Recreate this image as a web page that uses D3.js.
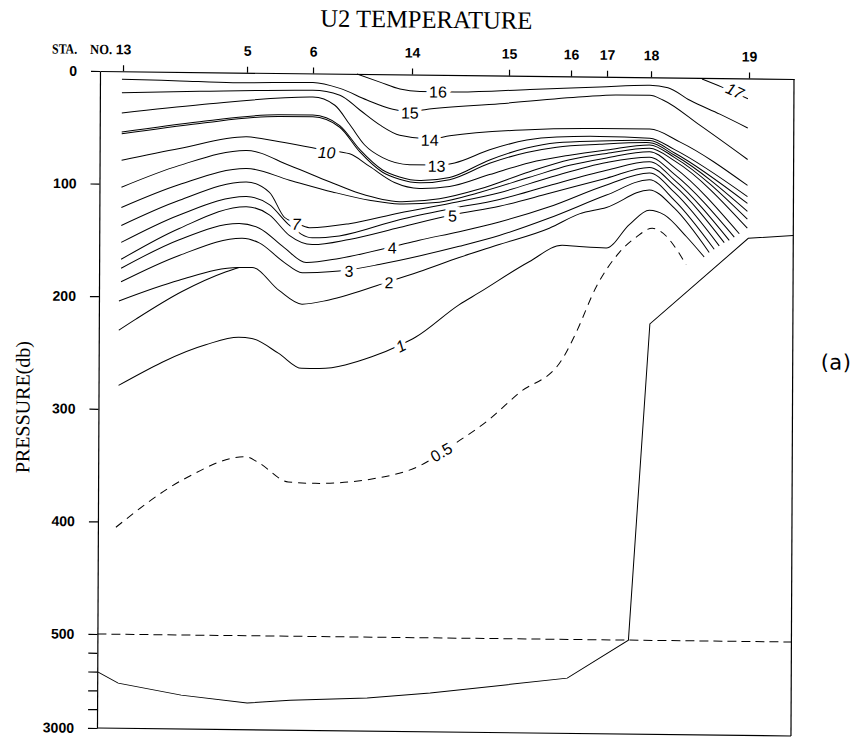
<!DOCTYPE html>
<html>
<head>
  <title>U2 Temperature</title>
  <script src="https://d3js.org/d3.v7.min.js"></script>
  <style>
    body { margin: 0; background: #fff; }
  </style>
</head>
<body>
  <div id="section"></div>

  <script>
    // stations along the section (distance in km from the left edge)
    var stationNames = ['13', '5', '6', '14', '15', '16', '17', '18', '19'];
    var stationDist = [23, 147, 213, 312, 409, 471, 507, 551, 649];

    // pressure axis (db), the scale changes below 500
    var pressureTicks = [0, 100, 200, 300, 400, 500, 1000, 1500, 2000, 2500, 3000];
    var pressureLabels = [0, 100, 200, 300, 400, 500, 3000];

    // isotherms, [distance km, pressure db]
    var t17 = [[602, 1], [622, 8], [648, 18]];
    var t16 = [[257, 0], [280, 7], [300, 13], [320, 15], [355, 15], [430, 12], [500, 9], [550, 7], [568, 9], [590, 20], [620, 32], [648, 44]];
    var t15 = [[22, 7], [80, 8], [133, 9], [213, 8], [240, 13], [267, 23], [293, 31], [310, 33], [325, 31], [400, 25], [483, 18], [517, 16], [550, 16], [563, 20], [600, 42], [648, 72]];
    var t14 = [[22, 19], [100, 17], [213, 15], [240, 19], [260, 32], [280, 45], [300, 54], [330, 57], [350, 54], [423, 48], [500, 46], [550, 46], [580, 57], [648, 95]];
    var t13 = [[22, 37], [100, 29], [213, 21], [235, 28], [250, 45], [265, 63], [283, 74], [310, 80], [337, 80], [355, 78], [390, 66], [427, 57], [457, 54], [500, 53], [550, 54], [575, 64], [648, 105]];
    var t12 = [[22, 54], [100, 44], [180, 37], [213, 37], [240, 46], [260, 67], [283, 85], [300, 91], [320, 94], [350, 91], [390, 75], [427, 64], [457, 59], [500, 57], [550, 56], [575, 67], [648, 111]];
    var t11 = [[22, 55.5], [100, 45.5], [180, 38.5], [213, 38.5], [240, 47.5], [260, 69], [283, 87], [300, 93], [320, 96], [350, 93], [390, 78], [427, 68], [457, 63], [500, 60], [550, 58], [575, 69], [648, 118]];
    var t10 = [[22, 79], [80, 68], [147, 57], [180, 61], [227, 68], [250, 71], [270, 82], [295, 96], [320, 101], [350, 99], [390, 88], [430, 77], [470, 70], [507, 65], [550, 60], [575, 71], [648, 125]];
    var t9 = [[22, 103], [80, 83], [147, 69], [190, 82], [230, 96], [260, 106], [300, 113], [340, 110], [380, 101], [430, 85], [470, 74], [507, 68], [550, 63], [575, 74], [648, 133]];
    var t8 = [[22, 121], [80, 100], [147, 85], [190, 95], [233, 105], [270, 112], [300, 115], [340, 113], [380, 104], [430, 90], [470, 79], [507, 72], [550, 66], [575, 80], [640, 138]];
    var t7 = [[22, 137], [80, 114], [147, 97], [170, 106], [185, 128], [197, 133], [210, 137], [250, 133], [300, 123], [350, 114], [400, 104], [450, 90], [507, 76], [550, 71], [575, 86], [635, 141]];
    var t6 = [[22, 152], [80, 127], [147, 110], [170, 117], [190, 135], [213, 146], [240, 144], [300, 129], [350, 119], [400, 110], [450, 97], [507, 83], [550, 75], [575, 91], [630, 144]];
    var t5 = [[22, 167], [80, 139], [147, 119], [170, 126], [190, 144], [213, 152], [250, 147], [300, 136], [353, 124], [400, 116], [450, 104], [507, 90], [550, 80], [575, 96], [625, 146]];
    var t4 = [[22, 175], [80, 149], [140, 134], [160, 138], [185, 155], [207, 168], [240, 164], [293, 153], [320, 147], [360, 139], [400, 130], [450, 116], [507, 96], [550, 85], [575, 102], [620, 149]];
    var t3 = [[22, 187], [80, 163], [143, 147], [160, 151], [185, 168], [203, 177], [230, 176], [250, 174], [280, 169], [320, 161], [360, 152], [400, 142], [450, 126], [507, 105], [550, 91], [575, 109], [615, 152]];
    var t2 = [[20, 204], [80, 185], [140, 173], [153, 173], [180, 193], [203, 205], [230, 201], [290, 184], [320, 175], [360, 162], [400, 150], [450, 135], [480, 122], [507, 116], [550, 100], [575, 116], [610, 155]];
    var t2b = [[20, 230], [37, 220], [83, 195], [127, 177], [140, 173]];
    var t1 = [[20, 279], [107, 242], [140, 235], [153, 236], [180, 249], [203, 262], [220, 262], [273, 251], [302, 240], [317, 233], [360, 204], [380, 193], [430, 165], [463, 150], [480, 151], [507, 152], [530, 131], [550, 118], [565, 122], [587, 141], [605, 159]];
    var t05 = [[18, 405], [87, 361], [147, 341], [160, 346], [190, 363], [217, 364], [283, 358], [320, 348], [357, 327], [390, 306], [420, 282], [463, 252], [477, 228], [497, 187], [520, 156], [537, 142], [553, 134], [560, 136], [587, 166]];

    var isotherms = [
      { level: 17, pts: t17 }, { level: 16, pts: t16 }, { level: 15, pts: t15 },
      { level: 14, pts: t14 }, { level: 13, pts: t13 }, { level: 12, pts: t12 },
      { level: 11, pts: t11 }, { level: 10, pts: t10 }, { level: 9, pts: t9 },
      { level: 8, pts: t8 }, { level: 7, pts: t7 }, { level: 6, pts: t6 },
      { level: 5, pts: t5 }, { level: 4, pts: t4 }, { level: 3, pts: t3 },
      { level: 2, pts: t2 }, { level: 2, pts: t2b }, { level: 1, pts: t1 },
      { level: 0.5, pts: t05 }
    ];

    // contour labels
    var labelText = ['17', '16', '15', '14', '13', '10', '7', '5', '4', '3', '2', '1', '0.5'];
    var labelDist = [635, 338, 310, 330, 337, 227, 197, 353, 293, 250, 290, 302, 343];
    var labelPres = [11, 15, 34, 58, 81, 70, 134, 125, 154, 175, 185, 241, 335];

    // sea floor
    var bottomDist = [0, 21, 84, 150, 193, 270, 333, 470, 531, 551, 649, 694];
    var bottomPres = [1500, 1800, 2100, 2290, 2200, 2120, 1970, 1530, 500, 219, 142, 139];

    var labelAngle = { '17': 24, '1': -28, '0.5': -30 };
    var labelItalic = { '17': true, '10': true, '7': true, '1': true };

    var svg = d3.select('#section').append('svg')
      .attr('width', 857)
      .attr('height', 739);

    svg.append('rect')
      .attr('width', 857)
      .attr('height', 739)
      .attr('fill', 'white');

    // the scanned figure is slightly skewed
    var chart = svg.append('g')
      .attr('transform', 'matrix(1,0.0115,-0.0046,1,0.33,-1.15)');

    var x = d3.scaleLinear()
      .domain([0, 694])
      .range([100, 794]);

    var y = d3.scaleLinear()
      .domain([0, 500, 3000])
      .range([71, 634, 728]);

    var tickFont = 'bold 14px "Liberation Sans", Arial, sans-serif';

    // left axis
    var leftAxis = chart.append('g')
      .attr('transform', 'translate(100,0)')
      .call(d3.axisLeft(y)
        .tickValues(pressureTicks)
        .tickSize(9)
        .tickSizeOuter(0)
        .tickPadding(14)
        .tickFormat(function(d) { return pressureLabels.indexOf(d) >= 0 ? d : ''; }));
    leftAxis.selectAll('text').style('font', tickFont).attr('fill', 'black');
    leftAxis.selectAll('line, path').attr('stroke', 'black').attr('stroke-width', 1.2);

    // top axis with the stations
    var topAxis = chart.append('g')
      .attr('transform', 'translate(0,71)')
      .call(d3.axisTop(x)
        .tickValues(stationDist)
        .tickSize(6)
        .tickSizeOuter(0)
        .tickPadding(11)
        .tickFormat(function(d, i) { return stationNames[i]; }));
    topAxis.selectAll('text').style('font', tickFont).attr('fill', 'black');
    topAxis.selectAll('line, path').attr('stroke', 'black').attr('stroke-width', 1.2);

    chart.append('text')
      .attr('x', 52)
      .attr('y', 54)
      .attr('textLength', 25)
      .attr('lengthAdjust', 'spacingAndGlyphs')
      .style('font', 'bold 14px "Liberation Serif", serif')
      .text('STA.');
    chart.append('text')
      .attr('x', 90)
      .attr('y', 54)
      .attr('textLength', 22)
      .attr('lengthAdjust', 'spacingAndGlyphs')
      .style('font', 'bold 14px "Liberation Serif", serif')
      .text('NO.');

    // right and bottom frame
    chart.append('line')
      .attr('x1', x(694)).attr('x2', x(694))
      .attr('y1', y(0)).attr('y2', y(3000))
      .attr('stroke', 'black').attr('stroke-width', 1.2);
    chart.append('line')
      .attr('x1', x(0)).attr('x2', x(694))
      .attr('y1', y(3000)).attr('y2', y(3000))
      .attr('stroke', 'black').attr('stroke-width', 1.2);

    // 500 db scale break
    chart.append('line')
      .attr('x1', x(0)).attr('x2', x(694))
      .attr('y1', y(500)).attr('y2', y(500))
      .attr('stroke', 'black').attr('stroke-width', 1)
      .attr('stroke-dasharray', '9,5');

    var line = d3.line()
      .x(function(d) { return x(d[0]); })
      .y(function(d) { return y(d[1]); })
      .curve(d3.curveMonotoneX);

    chart.selectAll('.isotherm')
      .data(isotherms)
      .enter()
      .append('path')
      .attr('class', 'isotherm')
      .attr('d', function(d) { return line(d.pts); })
      .attr('fill', 'none')
      .attr('stroke', 'black')
      .attr('stroke-width', 1)
      .attr('stroke-dasharray', function(d) { return d.level < 1 ? '8,6' : null; });

    // sea floor
    var bottomLine = d3.line()
      .x(function(d, i) { return x(bottomDist[i]); })
      .y(function(d) { return y(d); });
    chart.append('path')
      .attr('d', bottomLine(bottomPres))
      .attr('fill', 'none')
      .attr('stroke', 'black')
      .attr('stroke-width', 1);

    // contour labels
    chart.selectAll('.clabel')
      .data(labelText)
      .enter()
      .append('text')
      .attr('class', 'clabel')
      .attr('transform', function(d, i) {
        return 'translate(' + x(labelDist[i]) + ',' + y(labelPres[i]) + ') rotate(' + (labelAngle[d] || 0) + ')';
      })
      .attr('text-anchor', 'middle')
      .attr('dy', '0.36em')
      .style('font-family', '"Liberation Sans", Arial, sans-serif')
      .style('font-size', '16px')
      .style('font-style', function(d) { return labelItalic[d] ? 'italic' : 'normal'; })
      .attr('fill', 'black')
      .attr('stroke', 'white')
      .attr('stroke-width', 8)
      .attr('paint-order', 'stroke')
      .text(function(d) { return d; });

    // titles
    chart.append('text')
      .attr('x', 426)
      .attr('y', 24)
      .attr('text-anchor', 'middle')
      .attr('textLength', 212)
      .attr('lengthAdjust', 'spacingAndGlyphs')
      .style('font', '25px "Liberation Serif", "Times New Roman", serif')
      .text('U2 TEMPERATURE');

    chart.append('text')
      .attr('transform', 'translate(31,408) rotate(-90)')
      .attr('text-anchor', 'middle')
      .style('font', '20px "Liberation Serif", "Times New Roman", serif')
      .text('PRESSURE(db)');

    chart.append('text')
      .attr('x', 822)
      .attr('y', 361)
      .style('font', '21px "DejaVu Sans", sans-serif')
      .style('letter-spacing', '0.5px')
      .text('(a)');
  </script>
</body>
</html>
